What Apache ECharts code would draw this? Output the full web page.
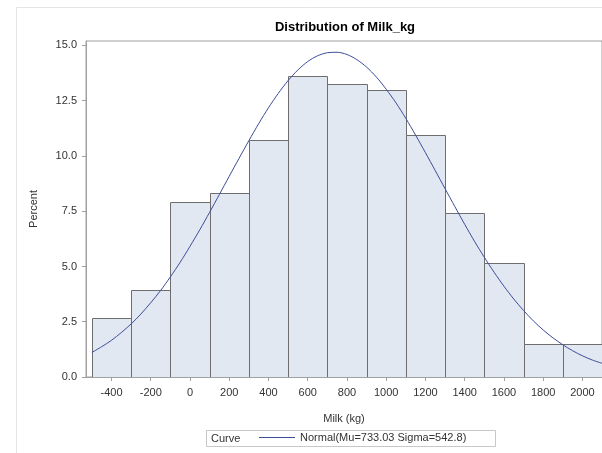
<!DOCTYPE html>
<html>
<head>
<meta charset="utf-8">
<script src="https://cdn.jsdelivr.net/npm/echarts@6/dist/echarts.min.js"></script>
<style>html,body{margin:0;padding:0;background:#fff;}#c{width:602px;height:453px;}</style>
</head>
<body>
<div id="c"></div>
<script>
// Histogram bins (centers, kg) and percent of observations
const binCenters = [-400, -200, 0, 200, 400, 600, 800, 1000, 1200, 1400, 1600, 1800, 2000];
const percents   = [2.66, 3.93, 7.92, 8.31, 10.72, 13.63, 13.26, 13.00, 10.96, 7.43, 5.17, 1.49, 1.49];
const binWidth = 200;

// Fitted normal curve
const curveX = [-500,-450,-400,-350,-300,-250,-200,-150,-100,-50,0,50,100,150,200,250,300,350,400,450,500,550,600,650,700,750,800,850,900,950,1000,1050,1100,1150,1200,1250,1300,1350,1400,1450,1500,1550,1600,1650,1700,1750,1800,1850,1900,1950,2000,2050,2100];
const curveY = [1.11,1.37,1.66,2.01,2.40,2.85,3.36,3.91,4.53,5.19,5.91,6.66,7.45,8.26,9.08,9.89,10.69,11.46,12.18,12.83,13.41,13.89,14.27,14.53,14.67,14.69,14.59,14.36,14.02,13.57,13.02,12.40,11.70,10.94,10.15,9.34,8.52,7.71,6.91,6.14,5.42,4.74,4.11,3.53,3.01,2.54,2.13,1.77,1.46,1.19,0.96,0.77,0.62];

const xTicks = [-400, -200, 0, 200, 400, 600, 800, 1000, 1200, 1400, 1600, 1800, 2000];
const yTicks = [0, 2.5, 5, 7.5, 10, 12.5, 15];

const titleText = 'Distribution of Milk_kg';
const xName = 'Milk (kg)';
const yName = 'Percent';
const curveName = 'Normal(Mu=733.03 Sigma=542.8)';
const legendTitle = 'Curve';

const FONT = 'Liberation Sans, Arial, sans-serif';
const chart = echarts.init(document.getElementById('c'), null, {renderer: 'canvas'});

const histData = binCenters.map((c, i) => [c - binWidth / 2, c + binWidth / 2, percents[i]]);
const curveData = curveX.map((x, i) => [x, curveY[i]]);

chart.setOption({
  animation: false,
  backgroundColor: '#fff',
  grid: {left: 86, top: 41, right: -2, bottom: 76, show: true, borderColor: '#a0a0a0', borderWidth: 1, backgroundColor: 'transparent'},
  xAxis: {
    type: 'value', min: -530, max: 2100,
    axisLine: {show: true, onZero: false, lineStyle: {color: '#a0a0a0'}},
    axisTick: {show: true, length: 4, lineStyle: {color: '#a0a0a0'}, customValues: xTicks},
    axisLabel: {color: '#333', fontFamily: FONT, fontSize: 11, margin: 10, customValues: xTicks,
      formatter: v => String(v)},
    splitLine: {show: false},
    name: xName, nameLocation: 'middle', nameGap: 36,
    nameTextStyle: {color: '#333', fontFamily: FONT, fontSize: 11}
  },
  yAxis: {
    type: 'value', min: 0, max: 15.2,
    axisLine: {show: true, onZero: false, lineStyle: {color: '#a0a0a0'}},
    axisTick: {show: true, length: 4, lineStyle: {color: '#a0a0a0'}, customValues: yTicks},
    axisLabel: {color: '#333', fontFamily: FONT, fontSize: 11, margin: 9, customValues: yTicks,
      formatter: v => Number(v).toFixed(1)},
    splitLine: {show: false},
    name: yName, nameLocation: 'middle', nameGap: 47, nameRotate: 90,
    nameTextStyle: {color: '#333', fontFamily: FONT, fontSize: 11}
  },
  legend: {
    show: true, left: 259, top: 432,
    data: [{name: curveName, icon: 'rect'}],
    itemWidth: 36, itemHeight: 1, itemGap: 5,
    textStyle: {color: '#333', fontFamily: FONT, fontSize: 11},
    padding: 0, selectedMode: false
  },
  graphic: [
    {type: 'rect', shape: {x: 16.5, y: 7.5, width: 620, height: 460}, style: {fill: 'none', stroke: '#e4e4e4', lineWidth: 1}, silent: true, z: -10},
    {type: 'text', x: 345, y: 27, style: {text: titleText, fill: '#000', font: 'bold 13px ' + FONT, textAlign: 'center', textVerticalAlign: 'middle'}},
    {type: 'rect', shape: {x: 206.5, y: 430.5, width: 289, height: 16}, style: {fill: 'none', stroke: '#c8c8c8', lineWidth: 1}, silent: true},
    {type: 'text', x: 211, y: 439, style: {text: legendTitle, fill: '#333', font: '11px ' + FONT, textVerticalAlign: 'middle'}}
  ],
  series: [
    {
      type: 'custom', name: 'hist', clip: true, z: 2,
      data: histData,
      encode: {x: [0, 1], y: 2},
      renderItem: function (params, api) {
        const p0 = api.coord([api.value(0), api.value(2)]);
        const p1 = api.coord([api.value(1), 0]);
        return {
          type: 'rect',
          shape: {x: Math.round(p0[0]) + 0.5, y: Math.round(p0[1]) + 0.5, width: Math.round(p1[0]) - Math.round(p0[0]), height: Math.round(p1[1]) - Math.round(p0[1])},
          style: {fill: '#e2e8f1', stroke: '#6e6e6e', lineWidth: 1}
        };
      }
    },
    {
      type: 'line', name: curveName, data: curveData, smooth: 0.3, showSymbol: false, symbol: 'none', clip: true, z: 3,
      lineStyle: {color: '#3b4c98', width: 1}, itemStyle: {color: '#3b4c98'}
    }
  ]
});
</script>
</body>
</html>
